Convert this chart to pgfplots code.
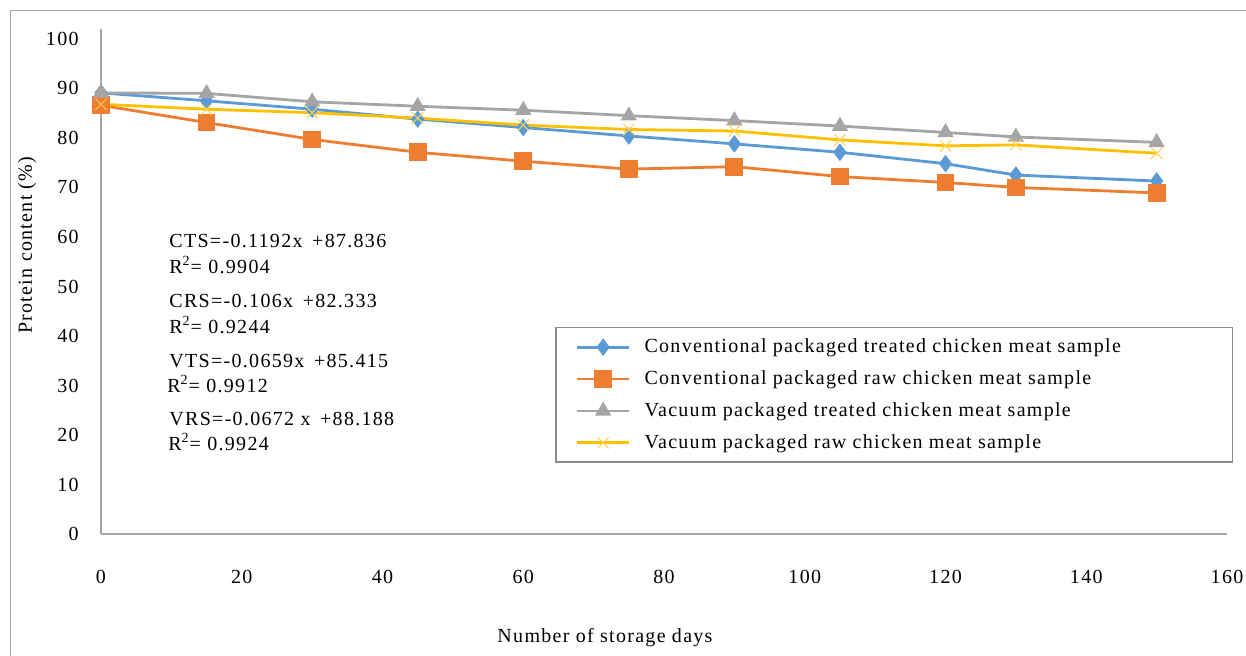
\documentclass[border=0pt]{standalone}
\usepackage{pgfplots}
\pgfplotsset{compat=1.18}
\usepackage{fontspec}
\setmainfont{Liberation Serif}[LetterSpace=6.5]
\definecolor{cblue}{HTML}{5B9BD5}
\definecolor{corange}{HTML}{ED7D31}
\definecolor{cgrey}{HTML}{A5A5A5}
\definecolor{cyellow}{HTML}{FFC000}
\definecolor{axgray}{HTML}{A6A6A6}
\definecolor{leggray}{HTML}{8C8C8C}
\begin{document}
\begin{tikzpicture}
\useasboundingbox (0pt,0pt) rectangle (623pt,-327.5pt);
\fill[white] (0pt,0pt) rectangle (623pt,-327.5pt);
\draw[axgray, line width=0.6pt] (5.2pt,-330pt) -- (5.2pt,-5.3pt) -- (626pt,-5.3pt);
\begin{axis}[
  at={(50.5pt,-267pt)}, anchor=south west,
  scale only axis, width=563pt, height=252.5pt,
  xmin=0, xmax=160, ymin=0, ymax=102,
  clip=false,
  axis x line*=bottom, axis y line*=left,
  axis line style={-, draw=axgray, line width=0.75pt},
  xtick={0,20,...,160}, ytick={0,10,...,100},
  major tick length=0pt,
  /pgf/number format/assume math mode=true,
  tick label style={font=\fontsize{10}{12}\selectfont},
  xticklabel style={anchor=base, yshift=-24.75pt, inner sep=0pt},
  yticklabel style={anchor=east, xshift=-11pt, inner sep=0pt},
  label style={font=\fontsize{10}{12}\selectfont},
  xlabel={Number of storage days},
  xlabel style={at={(axis description cs:0.4476,-0.206)}, anchor=center},
  ylabel={Protein content (\%)},
  ylabel style={at={(axis description cs:-0.0657,0.572)}, anchor=center},
  legend style={at={(0.4032,0.41)}, anchor=north west, draw=leggray, line width=0.75pt,
    font=\fontsize{10}{12}\selectfont, inner xsep=10pt, inner ysep=3.5pt, row sep=3.5pt},
  legend cell align=left,
  legend image code/.code={\draw[mark repeat=2,mark phase=2] plot coordinates {(0pt,0pt)(13pt,0pt)(26pt,0pt)};},
  every axis plot/.append style={line width=1.4pt},
]
\addplot[cblue, mark=diamond*, mark size=4pt, mark options={solid, fill=cblue, draw=cblue, line width=0.5pt}] coordinates {
(0,89.1) (15,87.5) (30,85.8) (45,83.8) (60,82.1) (75,80.4) (90,78.8) (105,77.1) (120,74.8) (130,72.5) (150,71.3)};
\addlegendentry{\makebox[287pt][l]{\hspace*{5pt}Conventional packaged treated chicken meat sample}}
\addplot[corange, mark=square*, mark size=4.2pt, mark options={solid, fill=corange, draw=corange, line width=0.5pt}] coordinates {
(0,86.6) (15,83.1) (30,79.7) (45,77.1) (60,75.3) (75,73.7) (90,74.2) (105,72.2) (120,71.0) (130,70.0) (150,68.9)};
\addlegendentry{\makebox[287pt][l]{\hspace*{5pt}Conventional packaged raw chicken meat sample}}
\addplot[cgrey, mark=triangle*, mark size=4.2pt, mark options={solid, fill=cgrey, draw=cgrey, line width=0.5pt}] coordinates {
(0,89.1) (15,89.0) (30,87.3) (45,86.4) (60,85.6) (75,84.5) (90,83.5) (105,82.4) (120,81.1) (130,80.2) (150,79.1)};
\addlegendentry{\makebox[287pt][l]{\hspace*{5pt}Vacuum packaged treated chicken meat sample}}
\addplot[cyellow, mark=x, mark size=4pt, mark options={solid, draw=cyellow!70, line width=0.5pt}] coordinates {
(0,86.8) (15,85.8) (30,85.1) (45,84.0) (60,82.6) (75,81.7) (90,81.4) (105,79.6) (120,78.4) (130,78.6) (150,76.9)};
\addlegendentry{\makebox[287pt][l]{\hspace*{5pt}Vacuum packaged raw chicken meat sample}}
\end{axis}
\begin{scope}[every node/.style={anchor=base west, inner sep=0pt, font=\fontsize{10}{12}\selectfont}]
\node at (84.5pt,-123.5pt) {CTS=-0.1192x\ \,+87.836};
\node at (84.5pt,-136.5pt) {R\textsuperscript{2}= 0.9904};
\node at (84.5pt,-153.5pt) {CRS=-0.106x\ \,+82.333};
\node at (84.5pt,-166.5pt) {R\textsuperscript{2}= 0.9244};
\node at (84.5pt,-183.5pt) {VTS=-0.0659x\ \,+85.415};
\node at (83.5pt,-196pt) {R\textsuperscript{2}= 0.9912};
\node at (84.5pt,-212.5pt) {VRS=-0.0672 x\ \,+88.188};
\node at (84pt,-225pt) {R\textsuperscript{2}= 0.9924};
\end{scope}
\end{tikzpicture}
\end{document}
